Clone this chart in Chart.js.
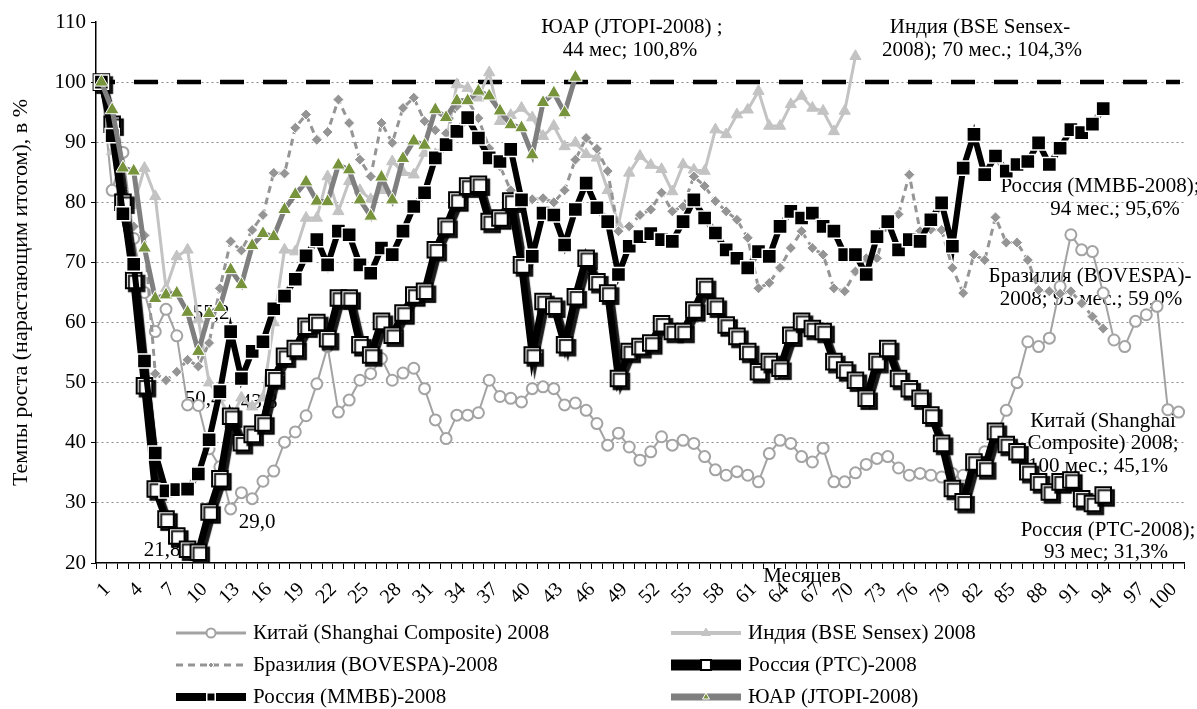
<!DOCTYPE html>
<html lang="ru">
<head>
<meta charset="utf-8">
<title>Темпы роста фондовых индексов</title>
<script src="https://cdn.jsdelivr.net/npm/chart.js@4.4.1/dist/chart.umd.min.js"></script>
<style>
    html, body { margin: 0; padding: 0; background: #fff; }
    #wrap { width: 1197px; height: 709px; position: relative; }
</style>
</head>
<body>
<div id="wrap"><canvas id="growthChart"></canvas></div>
<script>
// Months since the 2008 peak (category axis 1..101)
const months = Array.from({ length: 101 }, (_, i) => String(i + 1));

// Series values, % of the 2008 level
const china = [100, 82, 88.3, 74, 65, 58.5, 62.2, 57.8, 46.3, 46.2,
    39, 36, 29.0, 31.7, 30.7, 33.6, 35.3, 40.1, 41.8, 44.5,
    49.8, 56, 45.1, 47.1, 50.4, 51.5, 54, 50.4, 51.6, 52.4,
    49, 43.8, 40.7, 44.6, 44.6, 45.0, 50.4, 47.7, 47.4, 46.8,
    49, 49.3, 49, 46.3, 46.6, 45.4, 43.2, 39.6, 41.6, 39.3,
    37.1, 38.5, 41, 39.6, 40.4, 39.9, 37.7, 35.5, 34.6, 35.2,
    34.6, 33.5, 38.2, 40.4, 39.9, 37.7, 36.8, 39.1, 33.5, 33.5,
    35, 36.4, 37.4, 37.7, 35.8, 34.6, 34.9, 34.6, 34.3, 34.9,
    34.6, 36.5, 38.5, 41, 45.4, 50, 56.8, 56, 57.4, 66,
    74.6, 72.1, 71.8, 64.9, 57.1, 56, 60.2, 61.3, 62.7, 45.5, 45.1];

const india = [100, 88.5, 82, 79.5, 85.7, 81.0, 65.7, 71.0, 72.1, 60.5,
    50, 47.5, 43.8, 47.5, 46, 47.5, 60, 72.1, 71.8, 77.4,
    77.4, 84.3, 78.5, 83.5, 82, 80.5, 82, 86.8, 85, 84.6,
    88.2, 88, 90, 99.6, 99, 97.4, 101.6, 93.5, 94.5, 95.7,
    94.1, 91, 92.7, 89.3, 89.9, 88, 87.4, 82, 76.3, 84.9,
    87.7, 86.2, 85.5, 81.8, 86.3, 85.4, 85.2, 92.1, 91.3, 94.6,
    95.4, 98.5, 92.7, 92.7, 96.3, 97.7, 95.7, 95.2, 91.8, 95.2, 104.3];

const brazil = [100, 93, 82, 76, 74.5, 51.5, 50.4, 51.8, 53.8, 52.7,
    56.6, 65.7, 73.5, 72, 75.4, 77.9, 84.9, 84.8, 92.4, 94.6,
    90.4, 91.7, 97.1, 93.2, 87.1, 84.3, 93.2, 89.9, 95.7, 97.4,
    93.5, 92, 91.5, 96, 97, 94, 89, 86, 82, 79,
    80.5, 80.7, 80, 82, 87.1, 90.7, 88.9, 85.2, 75.2, 76,
    77.9, 78.8, 81.6, 78.5, 79.3, 84.3, 82.7, 80.2, 78.5, 77.1,
    74.1, 65.7, 66.6, 69.1, 72.4, 75.2, 72.4, 71.3, 65.7, 65.2,
    68.5, 70.7, 70.7, 76.8, 78, 84.6, 75.2, 75.5, 75.4, 69.1,
    64.9, 71.3, 70.4, 77.5, 73.3, 73.3, 70.4, 65.4, 65.2, 64.8,
    65.2, 63.2, 61, 59.0];

const russiaRts = [100, 93, 80, 67, 49.5, 32.3, 27.3, 24.5, 22.3, 21.8,
    28.5, 34, 44.4, 40, 41.4, 43.3, 50.8, 54.4, 55.7, 59.4,
    60, 57.3, 64.1, 64.1, 56.3, 54.6, 60.2, 57.9, 61.6, 64.6,
    65.2, 72.1, 76, 80.4, 82.7, 83, 76.8, 77.4, 80.2, 69.6,
    54.6, 63.5, 62.7, 56.3, 64.3, 70.7, 66.8, 64.9, 50.7, 55.2,
    56, 56.6, 59.8, 58.5, 58.5, 62.1, 66, 62.7, 59.6, 57.7,
    55.2, 51.8, 53.5, 52.4, 57.9, 60.2, 59, 58.5, 53.5, 52.1,
    50.4, 47.4, 53.5, 55.7, 50.7, 49, 47.4, 44.6, 39.9, 32.4,
    30.2, 36.8, 35.8, 41.9, 39.7, 38.5, 35.2, 33.5, 31.8, 33.5,
    33.8, 30.7, 29.9, 31.3];

const russiaMicex = [100, 91.1, 78.1, 69.7, 53.6, 38.3, 32, 32.2, 32.3, 34.8,
    40.5, 48.5, 58.5, 50.7, 55.2, 56.8, 62.3, 64.4, 67.2, 71.1,
    73.8, 69.6, 75.2, 74.6, 69.6, 68.2, 72.4, 71.3, 75.2, 79.3,
    81.6, 87.4, 89.6, 91.8, 94.1, 90.7, 87.4, 86.8, 88.8, 80.4,
    71, 78.2, 77.9, 72.9, 78.8, 83.2, 79.1, 76.8, 68, 72.7,
    74.3, 74.8, 73.8, 73.5, 76.8, 80.4, 77.4, 74.9, 72.1, 70.7,
    69.1, 71.8, 71, 76, 78.5, 77.4, 78.2, 76, 75.2, 71.3,
    71.3, 68, 74.3, 76.8, 72.1, 73.8, 73.5, 77.1, 79.9, 72.7,
    85.7, 91.3, 84.6, 87.7, 85.2, 86.3, 86.8, 89.9, 86.3, 89,
    92.1, 91.6, 93, 95.6];

const southAfrica = [100, 95.4, 85.7, 85.2, 72.4, 64.0, 64.6, 64.9, 61.7, 55.2,
    61.5, 62.5, 68.8, 66.3, 72.8, 74.8, 74.3, 78.8, 81.3, 83.4,
    80.2, 80.1, 86.2, 85.4, 80.4, 77.7, 84.2, 80.4, 87.3, 90.2,
    89.5, 95.4, 94.1, 96.9, 96.9, 98.5, 97.7, 95.2, 92.9, 92.4,
    87.9, 96.6, 98.2, 94.9, 100.8];

const yTicks = [20, 30, 40, 50, 60, 70, 80, 90, 100, 110];
const baseLevel = 100;

// Text placed on the plot (pixel positions)
const notes = [
    { text: '55,2', x: 211, y: 313 },
    { text: '50,4', x: 203, y: 399 },
    { text: '43,8', x: 259, y: 402 },
    { text: '29,0', x: 257, y: 522 },
    { text: '21,8', x: 162, y: 550 },
    { text: 'ЮАР (JTOPI-2008) ;', x: 632, y: 27 },
    { text: '44 мес; 100,8%', x: 630, y: 50 },
    { text: 'Индия (BSE Sensex-', x: 980, y: 27 },
    { text: '2008); 70 мес.; 104,3%', x: 982, y: 50 },
    { text: 'Россия (ММВБ-2008);', x: 1100, y: 186 },
    { text: '94 мес.; 95,6%', x: 1115, y: 209 },
    { text: 'Бразилия (BOVESPA)-', x: 1090, y: 276 },
    { text: '2008; 93 мес.; 59,0%', x: 1091, y: 299 },
    { text: 'Китай (Shanghai', x: 1103, y: 421 },
    { text: 'Composite) 2008;', x: 1103, y: 443 },
    { text: '100 мес.; 45,1%', x: 1098, y: 466 },
    { text: 'Россия (РТС-2008);', x: 1108, y: 530 },
    { text: '93 мес; 31,3%', x: 1106, y: 552 }
];

const SERIF = '"Liberation Serif", "Times New Roman", serif';
Chart.defaults.font.family = SERIF;
Chart.defaults.color = '#000';

// 100% line + notes under the series
const notesPlugin = {
    id: 'notes',
    beforeDatasetsDraw(chart) {
        const { ctx, chartArea, scales } = chart;
        const y = scales.y.getPixelForValue(baseLevel);
        ctx.save();
        ctx.strokeStyle = '#000';
        ctx.lineWidth = 4.5;
        ctx.setLineDash([24, 19]);
        ctx.lineDashOffset = 5;
        ctx.beginPath();
        ctx.moveTo(chartArea.left, y);
        ctx.lineTo(chartArea.right - 4, y);
        ctx.stroke();
        ctx.setLineDash([]);
        ctx.font = '21px ' + SERIF;
        ctx.fillStyle = '#000';
        ctx.textAlign = 'center';
        ctx.textBaseline = 'middle';
        notes.forEach(n => ctx.fillText(n.text, n.x, n.y));
        ctx.restore();
    },
    beforeDatasetDraw(chart, args) {
        if (chart.data.datasets[args.index].shadow) {
            const ctx = chart.ctx;
            ctx.shadowColor = 'rgba(0,0,0,0.9)';
            ctx.shadowOffsetX = 3;
            ctx.shadowOffsetY = 3;
            ctx.shadowBlur = 1;
        }
    },
    afterDatasetDraw(chart) {
        const ctx = chart.ctx;
        ctx.shadowColor = 'rgba(0,0,0,0)';
        ctx.shadowOffsetX = 0;
        ctx.shadowOffsetY = 0;
        ctx.shadowBlur = 0;
    },
    afterDraw(chart) {
        const { ctx } = chart;
        ctx.save();
        ctx.font = '21px ' + SERIF;
        ctx.fillStyle = '#000';
        ctx.textAlign = 'center';
        ctx.textBaseline = 'middle';
        ctx.fillText('Месяцев', 802, 576);

        // legend, two columns
        const cols = [176, 671];
        const rows = [633, 665, 697];
        chart.data.datasets.forEach((d, i) => {
            const x0 = cols[i % 2];
            const y0 = rows[Math.floor(i / 2)];
            ctx.strokeStyle = d.borderColor;
            ctx.lineWidth = d.legendLine;
            ctx.setLineDash(d.borderDash || []);
            ctx.beginPath();
            ctx.moveTo(x0, y0);
            ctx.lineTo(x0 + 70, y0);
            ctx.stroke();
            ctx.setLineDash([]);
            ctx.fillStyle = d.pointBackgroundColor;
            ctx.strokeStyle = d.pointBorderColor;
            ctx.lineWidth = d.pointBorderWidth;
            Chart.helpers.drawPoint(ctx, {
                pointStyle: d.pointStyle, radius: d.legendPoint,
                rotation: 0, borderWidth: d.pointBorderWidth
            }, x0 + 35, y0);
            ctx.fillStyle = '#000';
            ctx.textAlign = 'left';
            ctx.fillText(d.label, x0 + 77, y0);
        });
        ctx.restore();
    }
};

const ctx = document.getElementById('growthChart').getContext('2d');
new Chart(ctx, {
    type: 'line',
    data: {
        labels: months,
        datasets: [
            {
                label: 'Китай (Shanghai Composite) 2008', data: china, order: 6,
                borderColor: '#a3a3a3', borderWidth: 2,
                pointStyle: 'circle', pointRadius: 5.5,
                pointBackgroundColor: '#fff', pointBorderColor: '#a3a3a3', pointBorderWidth: 2,
                legendLine: 3, legendPoint: 4.5
            },
            {
                label: 'Индия (BSE Sensex) 2008', data: india, order: 5,
                borderColor: '#c3c3c3', borderWidth: 3,
                pointStyle: 'triangle', pointRadius: 6.5,
                pointBackgroundColor: '#c3c3c3', pointBorderColor: '#c3c3c3', pointBorderWidth: 1,
                legendLine: 4, legendPoint: 5
            },
            {
                label: 'Бразилия (BOVESPA)-2008', data: brazil, order: 4,
                borderColor: '#959595', borderWidth: 3, borderDash: [7, 5],
                pointStyle: 'rectRot', pointRadius: 5.5,
                pointBackgroundColor: '#959595', pointBorderColor: '#fff', pointBorderWidth: 1,
                legendLine: 3, legendPoint: 3
            },
            {
                label: 'Россия (РТС)-2008', data: russiaRts, order: 3, shadow: true,
                borderColor: '#000', borderWidth: 7,
                pointStyle: 'rect', pointRadius: 11,
                pointBackgroundColor: '#fff', pointBorderColor: '#000', pointBorderWidth: 2,
                legendLine: 11, legendPoint: 7
            },
            {
                label: 'Россия (ММВБ)-2008', data: russiaMicex, order: 2,
                borderColor: '#000', borderWidth: 6,
                pointStyle: 'rect', pointRadius: 10,
                pointBackgroundColor: '#000', pointBorderColor: '#fff', pointBorderWidth: 1.5,
                legendLine: 8, legendPoint: 6
            },
            {
                label: 'ЮАР (JTOPI-2008)', data: southAfrica, order: 1,
                borderColor: '#7f7f7f', borderWidth: 5,
                pointStyle: 'triangle', pointRadius: 8,
                pointBackgroundColor: '#77933c', pointBorderColor: '#fff', pointBorderWidth: 1,
                legendLine: 7, legendPoint: 4
            }
        ]
    },
    options: {
        responsive: true,
        maintainAspectRatio: false,
        animation: false,
        devicePixelRatio: 1,
        layout: { padding: { left: 8, right: 7, top: 22, bottom: 101 } },
        elements: { line: { tension: 0 } },
        datasets: { line: { clip: { left: 12, right: 12, top: 12, bottom: 0 } } },
        plugins: { legend: { display: false }, tooltip: { enabled: false } },
        scales: {
            x: {
                offset: true,
                afterFit: s => { s.height = 45; s.paddingLeft = 0; s.paddingRight = 0; },
                grid: { offset: true, drawOnChartArea: false, tickLength: 6, color: '#000' },
                border: { color: '#000', width: 1.5 },
                ticks: {
                    autoSkip: false, minRotation: 45, maxRotation: 45, padding: 9,
                    labelOffset: 6,
                    font: { size: 20 },
                    callback: (v, i) => (i % 3 === 0 ? months[i] : '')
                }
            },
            y: {
                min: 20, max: 110,
                afterFit: s => { s.width = 88; s.paddingTop = 0; s.paddingBottom = 0; },
                afterBuildTicks: s => { s.ticks = yTicks.map(v => ({ value: v })); },
                grid: {
                    color: c => (c.tick && (c.tick.value === 110 || c.tick.value === 20)) ? 'rgba(0,0,0,0)' : '#8a8a8a',
                    tickColor: '#000', tickLength: 5, tickBorderDash: [], lineWidth: 1
                },
                border: { color: '#000', width: 1.5, dash: [2, 3] },
                ticks: { font: { size: 21 }, padding: 5 },
                title: {
                    display: true, text: 'Темпы роста (нарастающим итогом), в %',
                    font: { size: 22 }, padding: { top: 0, bottom: 2 }
                }
            }
        }
    },
    plugins: [notesPlugin]
});
</script>
</body>
</html>
